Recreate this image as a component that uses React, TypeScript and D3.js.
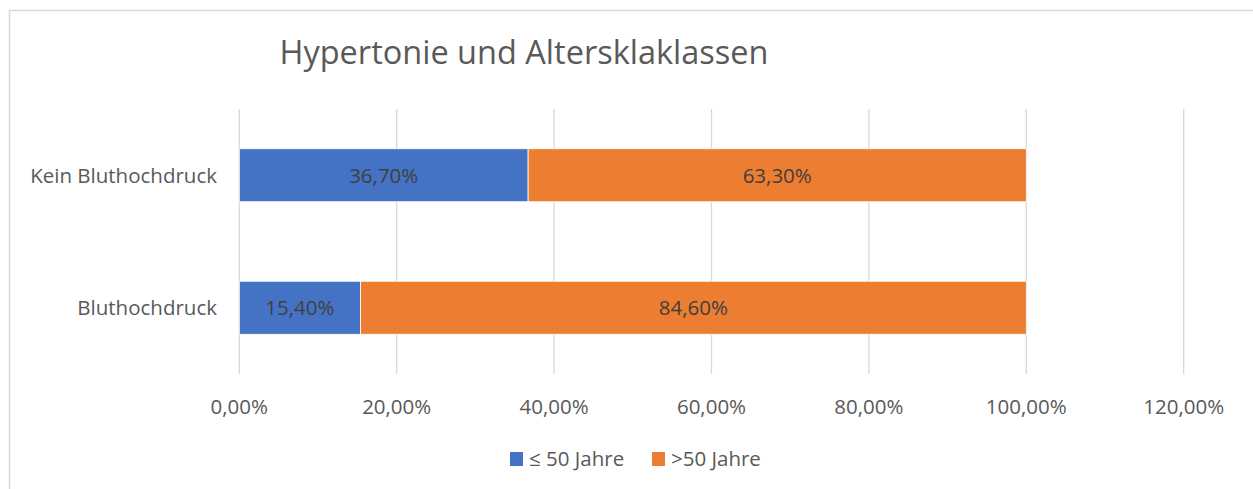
import React from "react";
import { scaleLinear, scaleBand, format } from "d3";

const categories = ["Kein Bluthochdruck", "Bluthochdruck"];
const young = [36.7, 15.4];
const old = [63.3, 84.6];
const seriesNames = ["≤ 50 Jahre", ">50 Jahre"];
const colors = ["#4472C4", "#ED7D31"];
const xTicks = [0, 20, 40, 60, 80, 100, 120];

const W = 1253;
const H = 489;
const FONT = "'Open Sans', Lato, sans-serif";
const FS = 20.5;

const pct = (v: number) => format(".2f")(v).replace(".", ",") + "%";

export default function App() {
  const x = scaleLinear().domain([0, 120]).range([239.3, 1183.7]);
  const y = scaleBand<string>()
    .domain(categories)
    .range([109, 374])
    .paddingInner(0.6)
    .paddingOuter(0.3);

  const rows = categories.map((c, i) => ({
    cat: c,
    segs: [
      { v0: 0, v1: young[i], color: colors[0] },
      { v0: young[i], v1: young[i] + old[i], color: colors[1] },
    ],
  }));

  return (
    <svg
      width={W}
      height={H}
      style={{ position: "absolute", left: 0, top: 0, fontFamily: FONT }}
    >
      <rect x={0} y={0} width={W} height={H} fill="#fff" />
      <rect
        x={9.5}
        y={10.5}
        width={1300}
        height={600}
        fill="none"
        stroke="#D9D9D9"
        strokeWidth={1.5}
      />
      <text
        x={524}
        y={64}
        textAnchor="middle"
        fontSize={32.5}
        fill="#595959"
      >
        Hypertonie und Altersklaklassen
      </text>

      {xTicks.map((t) => (
        <g key={t}>
          <line
            x1={x(t)}
            x2={x(t)}
            y1={109}
            y2={374}
            stroke="#D9D9D9"
            strokeWidth={1.3}
          />
          <text
            x={x(t)}
            y={414}
            textAnchor="middle"
            fontSize={FS}
            fill="#595959"
          >
            {pct(t)}
          </text>
        </g>
      ))}

      {rows.map((r) => (
        <g key={r.cat}>
          <text
            x={217}
            y={(y(r.cat) as number) + y.bandwidth() / 2 + 7.5}
            textAnchor="end"
            fontSize={FS}
            fill="#595959"
          >
            {r.cat}
          </text>
          {r.segs.map((s, j) => (
            <g key={j}>
              <rect
                x={x(s.v0)}
                y={y(r.cat)}
                width={x(s.v1) - x(s.v0)}
                height={y.bandwidth()}
                fill={s.color}
                stroke="#fff"
                strokeWidth={0.8}
              />
              <text
                x={(x(s.v0) + x(s.v1)) / 2}
                y={(y(r.cat) as number) + y.bandwidth() / 2 + 7.5}
                textAnchor="middle"
                fontSize={FS}
                fill="#404040"
              >
                {pct(s.v1 - s.v0)}
              </text>
            </g>
          ))}
        </g>
      ))}

      <g>
        <rect x={510} y={452} width={13} height={14} fill={colors[0]} />
        <text x={529} y={466} fontSize={FS} fill="#595959">
          {seriesNames[0]}
        </text>
        <rect x={652} y={452} width={13} height={14} fill={colors[1]} />
        <text x={671} y={466} fontSize={FS} fill="#595959">
          {seriesNames[1]}
        </text>
      </g>
    </svg>
  );
}
